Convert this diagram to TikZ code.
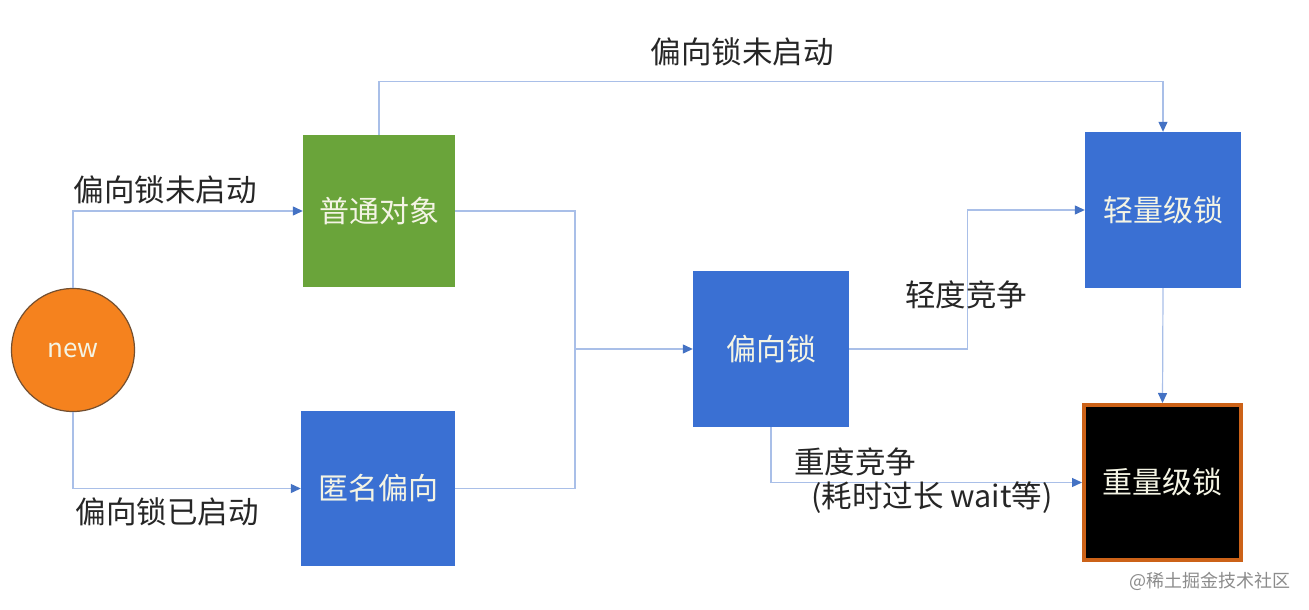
\documentclass[tikz,border=0pt]{standalone}
\usepackage{fontspec}
\setmainfont{Noto Sans CJK SC}
\usetikzlibrary{arrows.meta}
\definecolor{boxblue}{HTML}{3A70D3}
\definecolor{boxgreen}{HTML}{6AA43A}
\definecolor{neworange}{HTML}{F5821E}
\definecolor{heavyedge}{HTML}{CC6218}
\definecolor{linec}{HTML}{A9BFE8}
\definecolor{tipc}{HTML}{4472C4}
\definecolor{boxtext}{HTML}{F4F4E4}
\tikzset{
  box/.style={rectangle, inner sep=0pt, text=boxtext, font=\fontsize{30}{33}\selectfont},
  lbl/.style={inner sep=0pt, text=black!85, font=\fontsize{30.5}{33}\selectfont},
  conn/.style={draw=linec, line width=1.2pt, -{Triangle[length=10pt,width=9pt,color=tipc]}},
  plain/.style={draw=linec, line width=1.2pt}
}
\begin{document}
\begin{tikzpicture}[x=1pt,y=-1pt]
\useasboundingbox[fill=white] (0,0) rectangle (1309,610);
\node[circle, fill=neworange, draw=black!55!neworange!70!gray, line width=1.2pt, minimum size=123pt, inner sep=0pt, text=boxtext, font=\fontsize{26}{30}\selectfont] (newc) at (73,350) {\raisebox{-2pt}{new}};
\node[box, fill=boxgreen, minimum width=152pt, minimum height=152pt] (ordinary) at (379,211) {普通对象};
\node[box, fill=boxblue, minimum width=154pt, minimum height=155pt] (anon) at (378,488.5) {匿名偏向};
\node[box, fill=boxblue, minimum width=156pt, minimum height=156pt] (bias) at (771,349) {偏向锁};
\node[box, fill=boxblue, minimum width=156pt, minimum height=156pt] (light) at (1163,210) {轻量级锁};
\node[box, fill=black, draw=heavyedge, line width=4pt, minimum width=157pt, minimum height=155pt] (heavy) at (1162.5,482.5) {重量级锁};
\coordinate (m) at (575,349);
\draw[conn] (newc.north) |- (ordinary.west);
\draw[conn] (newc.south) |- (anon.west);
\draw[plain] (ordinary.east) -| (m);
\draw[plain] (anon.east) -| (m);
\draw[conn] (m) -- (bias.west);
\draw[conn] (ordinary.north) -- ++(0,-53) -| (light.north);
\draw[conn] (bias.east) -- ++(118,0) |- (light.west);
\draw[conn] (bias.south) |- (heavy.west);
\draw[conn] (light.south) -- (heavy.north);
\node[lbl] (l1) at (165,190) {偏向锁未启动};
\node[lbl] (l2) at (167,512) {偏向锁已启动};
\node[lbl] (l3) at (742,52) {偏向锁未启动};
\node[lbl] (l4) at (966,295) {轻度竞争};
\node[lbl] (l5) at (855,462) {重度竞争};
\node[lbl] (l6) at (932,498) {(耗时过长 wait等)};
\node[inner sep=0pt, text=black!45, font=\fontsize{18}{20}\selectfont] (wm) at (1210,581) {@稀土掘金技术社区};
\end{tikzpicture}
\end{document}
